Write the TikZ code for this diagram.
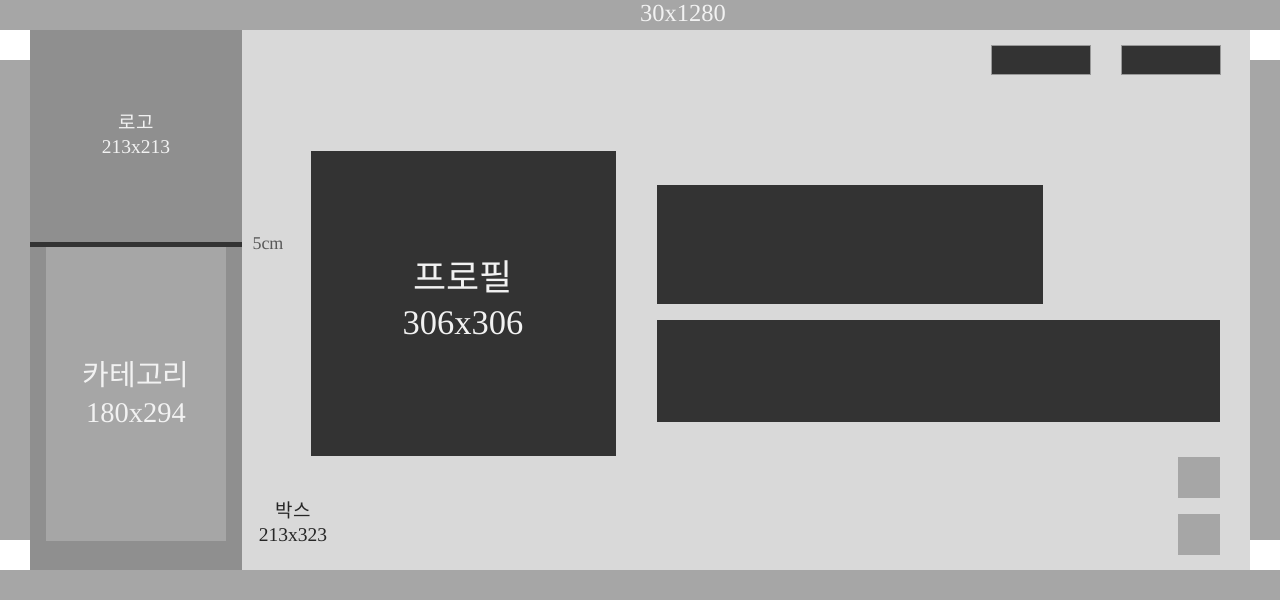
\documentclass[tikz,border=0pt]{standalone}
\usepackage{fontspec}
\setmainfont{Liberation Serif}
\newfontfamily\kr{Noto Sans CJK KR}
\definecolor{bggray}{HTML}{A6A6A6}
\definecolor{sidegray}{HTML}{8F8F8F}
\definecolor{maingray}{HTML}{D9D9D9}
\definecolor{darkbox}{HTML}{333333}
\definecolor{lighttext}{HTML}{F2F2F2}
\tikzset{
  area/.style={draw=none, inner sep=0pt, outer sep=0pt},
  darkrect/.style={fill=darkbox, draw=none},
  btn/.style={fill=darkbox, draw=gray!80, line width=0.6pt},
  sq/.style={fill=bggray, draw=none},
  lbl/.style={align=center, inner sep=0pt, font=\fontsize{19.5}{27}\selectfont},
}
\begin{document}
\begin{tikzpicture}[x=1pt, y=-1pt]
\useasboundingbox (0,0) rectangle (1280,600);
% background
\fill[bggray] (0,0) rectangle (1280,600);
\fill[white] (0,30) rectangle (30,60);
\fill[white] (0,540) rectangle (30,570);
\fill[white] (1250,30) rectangle (1280,60);
\fill[white] (1250,540) rectangle (1280,570);
% left panel
\fill[sidegray] (30,30) rectangle (242,570);
\fill[darkbox] (30,242) rectangle (242,247);
\fill[bggray] (46,247) rectangle (226,541);
% main panel
\fill[maingray] (242,30) rectangle (1250,570);
% profile and content blocks
\fill[darkrect] (311,151) rectangle (616,456);
\fill[darkrect] (657,185) rectangle (1043,304);
\fill[darkrect] (657,320) rectangle (1220,422);
\draw[btn] (991,45) rectangle (1090,74);
\draw[btn] (1121,45) rectangle (1220,74);
\fill[sq] (1178,457) rectangle (1220,498);
\fill[sq] (1178,514) rectangle (1220,555);
% labels
\node[lbl, text=lighttext, font=\fontsize{24.5}{28}\selectfont] (top) at (683,13) {30x1280};
\node[lbl, text=lighttext] (logo) at (136,134) {{\kr\fontsize{19}{19}\selectfont 로고}\\[-3pt]213x213};
\node[lbl, text=black!65, font=\fontsize{18}{20}\selectfont] (cm) at (268,244) {5cm};
\node[lbl, text=lighttext, font=\fontsize{28.5}{40}\selectfont] (cat) at (136,392) {{\kr\fontsize{29}{29}\selectfont 카테고리}\\[-3pt]180x294};
\node[lbl, text=lighttext, font=\fontsize{34.5}{48}\selectfont] (prof) at (463,298) {{\kr\fontsize{36}{36}\selectfont 프로필}\\[-4pt]306x306};
\node[lbl, text=black!85] (box) at (293,522) {{\kr\fontsize{19}{19}\selectfont 박스}\\[-3pt]213x323};
\end{tikzpicture}
\end{document}
